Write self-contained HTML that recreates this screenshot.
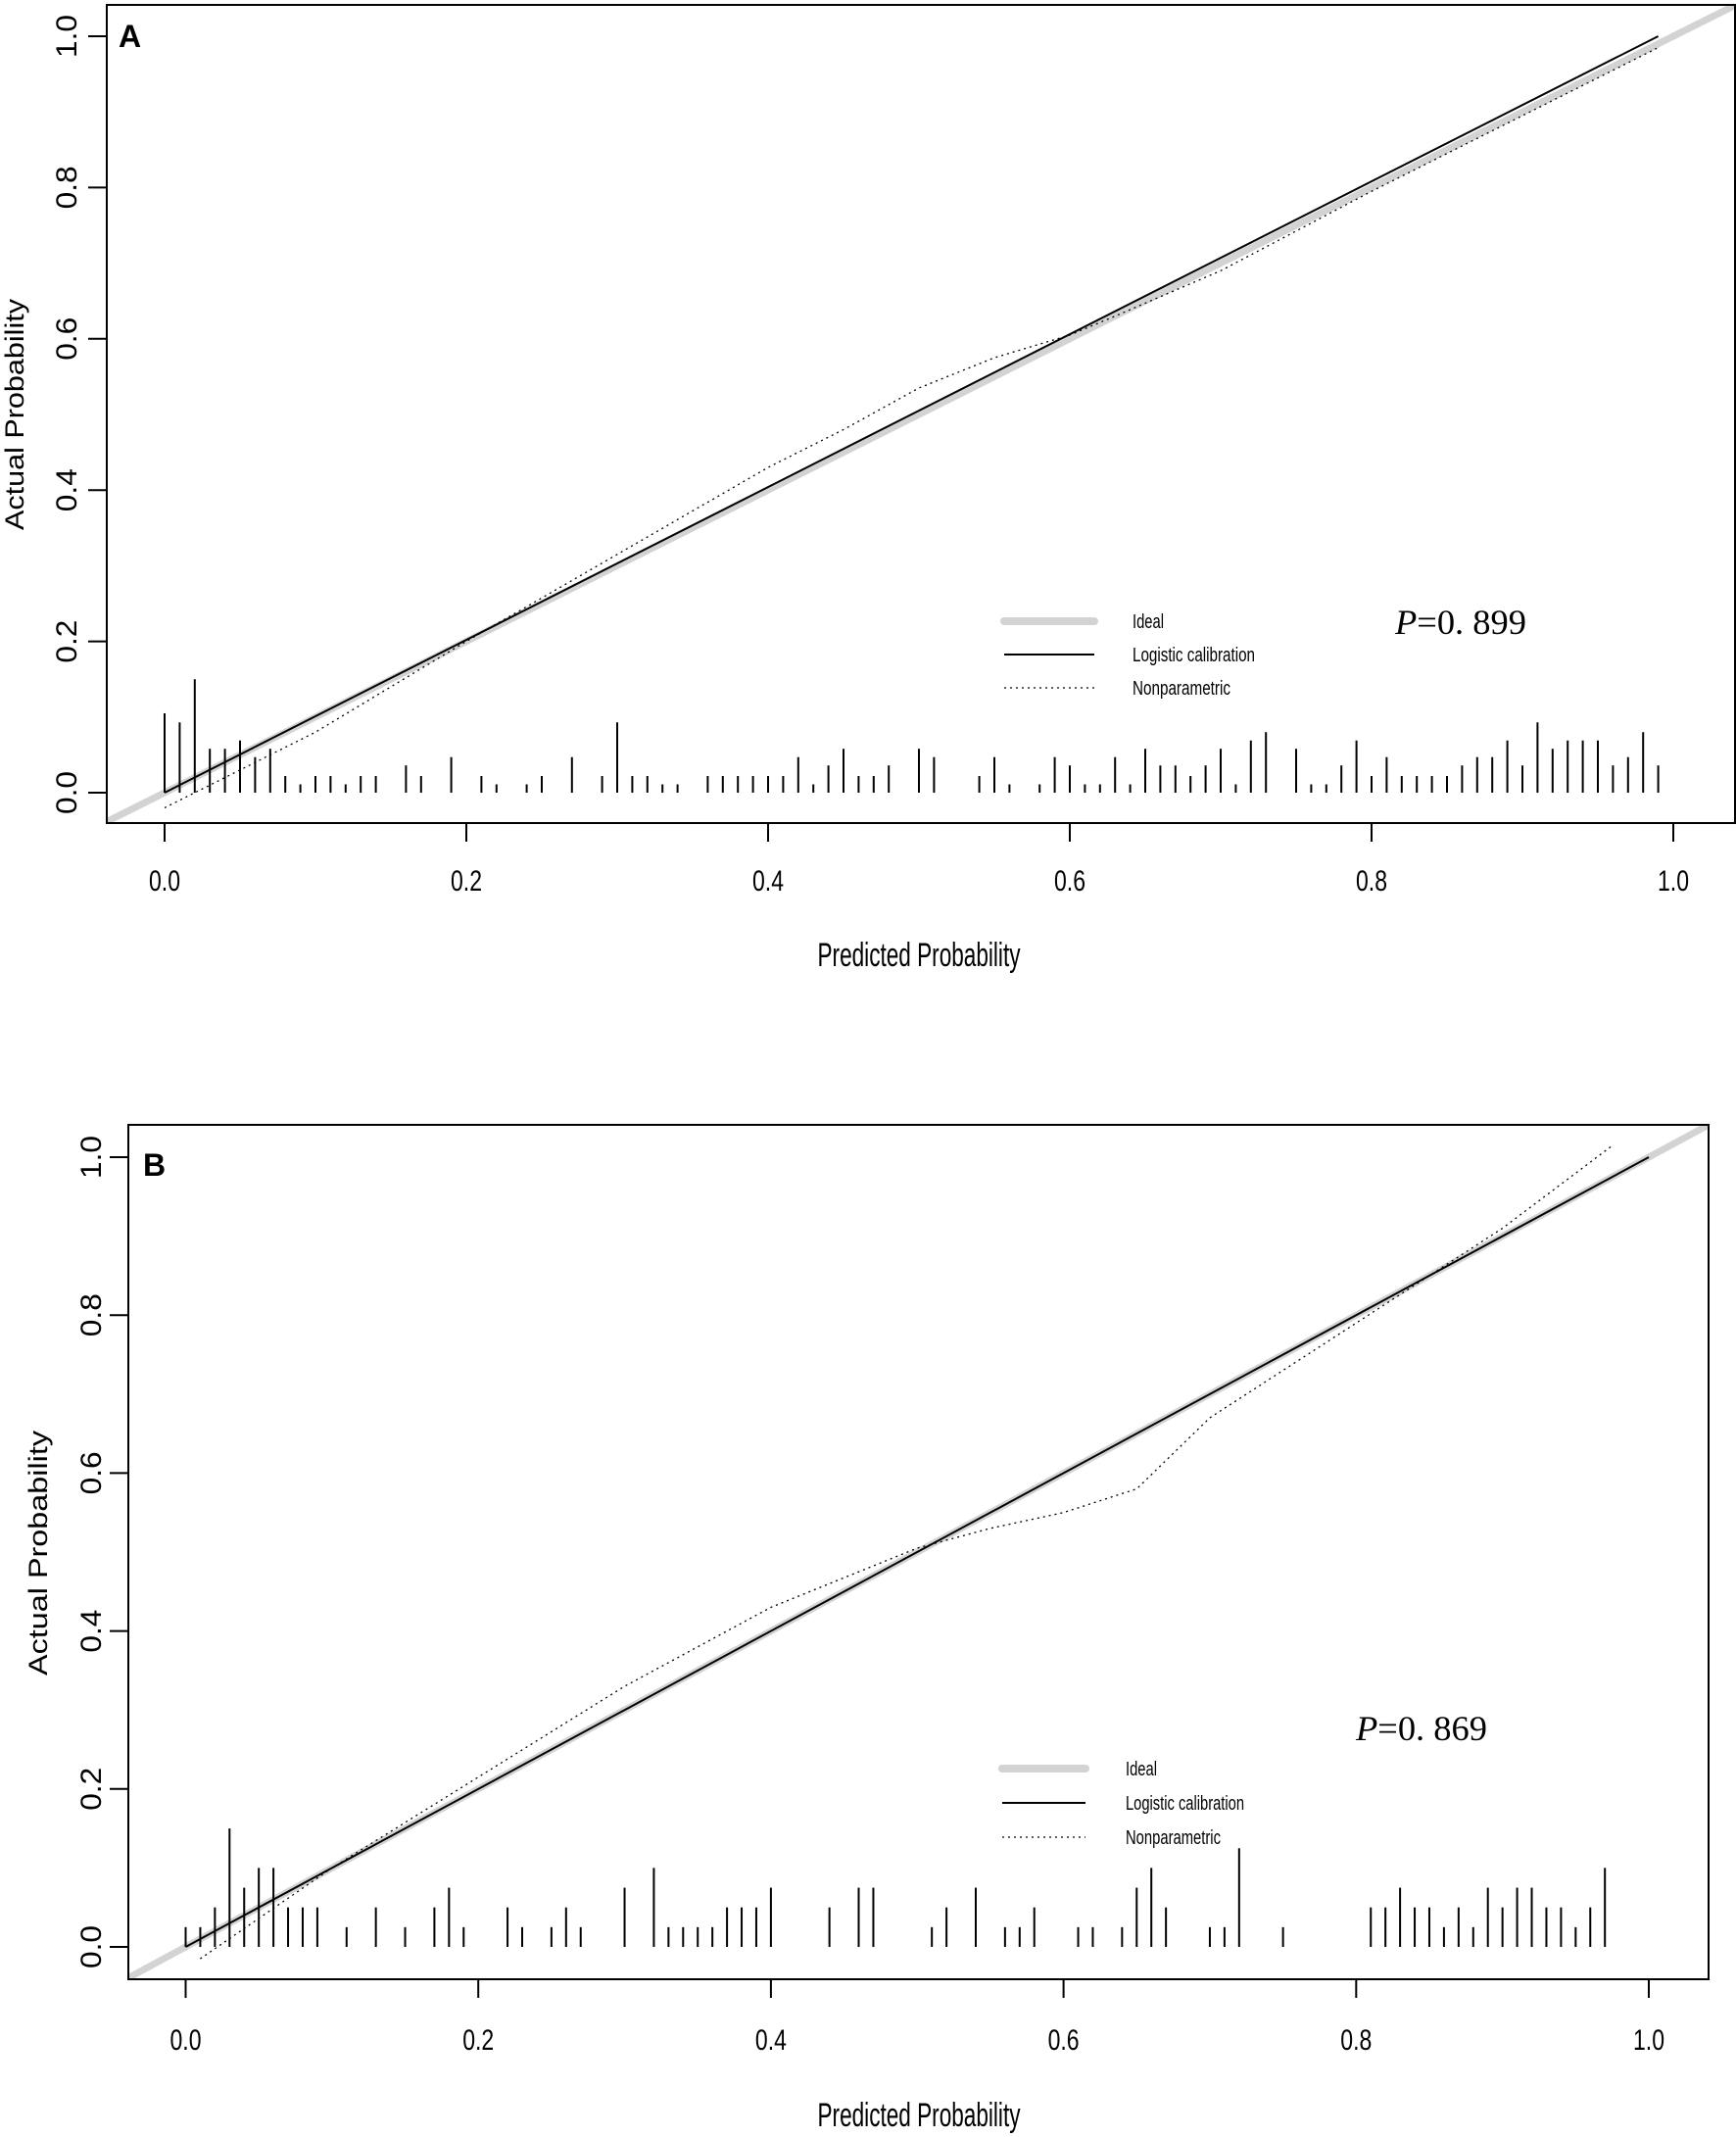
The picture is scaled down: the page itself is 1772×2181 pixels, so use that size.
<!DOCTYPE html>
<html><head><meta charset="utf-8"><title>Calibration curves</title>
<style>html,body{margin:0;padding:0;background:#fff}svg{display:block}</style></head>
<body>
<svg id="chart" xmlns="http://www.w3.org/2000/svg" width="1772" height="2181" viewBox="0 0 1772 2181"></svg>
<script>
// ---------- Data ----------
const xTickLabels = ["0.0","0.2","0.4","0.6","0.8","1.0"];
const xTickValues = [0,0.2,0.4,0.6,0.8,1.0];
const yTickLabels = ["0.0","0.2","0.4","0.6","0.8","1.0"];
const yTickValues = [0,0.2,0.4,0.6,0.8,1.0];
const legendLabels = ["Ideal","Logistic calibration","Nonparametric"];

// Panel A
const rugAx = [0,0.01,0.02,0.03,0.04,0.05,0.06,0.07,0.08,0.09,0.10,0.11,0.12,0.13,0.14,0.16,0.17,0.19,0.21,0.22,0.24,0.25,0.27,0.29,0.30,0.31,0.32,0.33,0.34,0.36,0.37,0.38,0.39,0.40,0.41,0.42,0.43,0.44,0.45,0.46,0.47,0.48,0.50,0.51,0.54,0.55,0.56,0.58,0.59,0.60,0.61,0.62,0.63,0.64,0.65,0.66,0.67,0.68,0.69,0.70,0.71,0.72,0.73,0.75,0.76,0.77,0.78,0.79,0.80,0.81,0.82,0.83,0.84,0.85,0.86,0.87,0.88,0.89,0.90,0.91,0.92,0.93,0.94,0.95,0.96,0.97,0.98,0.99];
const rugAh = [0.105,0.093,0.15,0.058,0.058,0.069,0.047,0.058,0.022,0.011,0.022,0.022,0.011,0.022,0.022,0.036,0.022,0.047,0.022,0.011,0.011,0.022,0.047,0.022,0.093,0.022,0.022,0.011,0.011,0.022,0.022,0.022,0.022,0.022,0.022,0.047,0.011,0.036,0.058,0.022,0.022,0.036,0.058,0.047,0.022,0.047,0.011,0.011,0.047,0.036,0.011,0.011,0.047,0.011,0.058,0.036,0.036,0.022,0.036,0.058,0.011,0.069,0.080,0.058,0.011,0.011,0.036,0.069,0.022,0.047,0.022,0.022,0.022,0.022,0.036,0.047,0.047,0.069,0.036,0.093,0.058,0.069,0.069,0.069,0.036,0.047,0.080,0.036];
const nonparAx = [0,0.1,0.2,0.3,0.4,0.45,0.5,0.55,0.6,0.63,0.7,0.8,0.9,0.99];
const nonparAy = [-0.02,0.08,0.2,0.315,0.43,0.48,0.535,0.575,0.605,0.63,0.69,0.795,0.895,0.985];
const logisticAx = [0,0.99];
const logisticAy = [0,1.0];
const pValueA = "0. 899";

// Panel B
const rugBx = [0,0.01,0.02,0.03,0.04,0.05,0.06,0.07,0.08,0.09,0.11,0.13,0.15,0.17,0.18,0.19,0.22,0.23,0.25,0.26,0.27,0.30,0.32,0.33,0.34,0.35,0.36,0.37,0.38,0.39,0.40,0.44,0.46,0.47,0.51,0.52,0.54,0.56,0.57,0.58,0.61,0.62,0.64,0.65,0.66,0.67,0.70,0.71,0.72,0.75,0.81,0.82,0.83,0.84,0.85,0.86,0.87,0.88,0.89,0.90,0.91,0.92,0.93,0.94,0.95,0.96,0.97];
const rugBh = [0.025,0.025,0.05,0.15,0.075,0.1,0.1,0.05,0.05,0.05,0.025,0.05,0.025,0.05,0.075,0.025,0.05,0.025,0.025,0.05,0.025,0.075,0.1,0.025,0.025,0.025,0.025,0.05,0.05,0.05,0.075,0.05,0.075,0.075,0.025,0.05,0.075,0.025,0.025,0.05,0.025,0.025,0.025,0.075,0.1,0.05,0.025,0.025,0.125,0.025,0.05,0.05,0.075,0.05,0.05,0.025,0.05,0.025,0.075,0.05,0.075,0.075,0.05,0.05,0.025,0.05,0.1];
const nonparBx = [0.01,0.1,0.2,0.3,0.4,0.5,0.55,0.6,0.65,0.7,0.8,0.9,0.976];
const nonparBy = [-0.015,0.1,0.215,0.33,0.43,0.505,0.53,0.55,0.58,0.67,0.79,0.91,1.016];
const logisticBx = [0,1.0];
const logisticBy = [0,1.0];
const pValueB = "0. 869";

// ---------- Rendering ----------
const NS = "http://www.w3.org/2000/svg";
const svg = document.getElementById("chart");
function mk(tag, attrs, parent){
  const e = document.createElementNS(NS, tag);
  for (const k in attrs) e.setAttribute(k, attrs[k]);
  (parent||svg).appendChild(e);
  return e;
}

function drawPanel(cfg){
  const g = mk("g", {});
  
  
  const sx = v => cfg.x0 + (cfg.x1 - cfg.x0) * v;
  const sy = v => cfg.y0 + (cfg.y1 - cfg.y0) * v;
  const clipId = "clip" + cfg.letter;
  const defs = mk("defs", {}, g);
  const cp = mk("clipPath", {id: clipId}, defs);
  mk("rect", {x: cfg.left, y: cfg.top, width: cfg.right - cfg.left, height: cfg.bottom - cfg.top}, cp);

  // ideal line
  const ideal = mk("line", {x1: sx(-0.1), y1: sy(-0.1), x2: sx(1.1), y2: sy(1.1), stroke: "#d3d3d3", "stroke-width": 7, "clip-path": "url(#" + clipId + ")"}, g);
  
  

  // logistic
  const lg = mk("polyline", {points: cfg.lx.map((v,i) => sx(v) + "," + sy(cfg.ly[i])).join(" "), fill: "none", stroke: "#000", "stroke-width": 2}, g);
  
  

  // nonparametric
  const np = mk("polyline", {points: cfg.nx.map((v,i) => sx(v) + "," + sy(cfg.ny[i])).join(" "), fill: "none", stroke: "#000", "stroke-width": 1.3, "stroke-dasharray": "2,4"}, g);
  
  

  // rug
  cfg.rx.forEach((v,i) => {
    const r = mk("line", {x1: sx(v), x2: sx(v), y1: sy(0), y2: sy(cfg.rh[i]), stroke: "#000", "stroke-width": 2}, g);
    
    
  });

  // box
  const box = mk("rect", {x: cfg.left, y: cfg.top, width: cfg.right - cfg.left, height: cfg.bottom - cfg.top, fill: "none", stroke: "#000", "stroke-width": 2}, g);
  
  

  // x ticks
  xTickValues.forEach((v,i) => {
    mk("line", {x1: sx(v), x2: sx(v), y1: cfg.bottom, y2: cfg.bottom + 19, stroke: "#000", "stroke-width": 2}, g);
    const t = mk("text", {x: sx(v), y: cfg.xLabelY, "text-anchor": "middle", "font-family": "Liberation Sans, sans-serif", "font-size": 30, textLength: 32, lengthAdjust: "spacingAndGlyphs"}, g);
    t.textContent = xTickLabels[i];
    
    
  });
  // y ticks
  yTickValues.forEach((v,i) => {
    mk("line", {x1: cfg.left, x2: cfg.left - 19, y1: sy(v), y2: sy(v), stroke: "#000", "stroke-width": 2}, g);
    const t = mk("text", {x: 0, y: 0, transform: "translate(" + cfg.yLabelX + "," + sy(v) + ") rotate(-90)", "text-anchor": "middle", "font-family": "Liberation Sans, sans-serif", "font-size": 30, textLength: 44, lengthAdjust: "spacingAndGlyphs"}, g);
    t.textContent = yTickLabels[i];
    
    
  });

  // titles
  const xt = mk("text", {x: 938, y: cfg.xTitleY, "text-anchor": "middle", "font-family": "Liberation Sans, sans-serif", "font-size": 34, textLength: 207, lengthAdjust: "spacingAndGlyphs"}, g);
  xt.textContent = "Predicted Probability";
  
  
  const yt = mk("text", {x: 0, y: 0, transform: "translate(" + cfg.yTitleX + "," + cfg.yTitleY + ") rotate(-90)", "text-anchor": "middle", "font-family": "Liberation Sans, sans-serif", "font-size": 27, textLength: cfg.yTitleLen, lengthAdjust: "spacingAndGlyphs"}, g);
  yt.textContent = "Actual Probability";
  
  

  // panel letter
  const pl = mk("text", {x: cfg.letterX, y: cfg.letterY, "font-family": "Liberation Sans, sans-serif", "font-weight": "bold", "font-size": 32}, g);
  pl.textContent = cfg.letter;
  
  

  // legend
  const lgY = cfg.legendY, lx1 = cfg.legendX1, lx2 = cfg.legendX2, tx = cfg.legendTextX;
  const styles = [
    {stroke: "#d3d3d3", "stroke-width": 8, "stroke-linecap": "round"},
    {stroke: "#000", "stroke-width": 2},
    {stroke: "#000", "stroke-width": 1.3, "stroke-dasharray": "2,4"}
  ];
  const lens = cfg.legendLens;
  legendLabels.forEach((lab,i) => {
    const y = lgY + i * cfg.legendGap;
    const a = Object.assign({x1: lx1, x2: lx2, y1: y, y2: y}, styles[i]);
    const ln = mk("line", a, g);
    
    
    const t = mk("text", {x: tx, y: y + 7, "font-family": "Liberation Sans, sans-serif", "font-size": 20, textLength: lens[i], lengthAdjust: "spacingAndGlyphs"}, g);
    t.textContent = lab;
    
    
  });

  // p value
  const pt = mk("text", {x: cfg.pX, y: cfg.pY, "font-family": "Liberation Serif, serif", "font-size": 36, textLength: 134, lengthAdjust: "spacingAndGlyphs"}, g);
  const ip = mk("tspan", {"font-style": "italic"}, pt);
  ip.textContent = "P";
  const rest = mk("tspan", {}, pt);
  rest.textContent = "=" + cfg.pText;
  
  
}

drawPanel({
  name: "panel-a", letter: "A",
  left: 109, right: 1771, top: 5, bottom: 840,
  x0: 168, x1: 1708, y0: 809, y1: 37,
  xLabelY: 909, yLabelX: 78, xTitleY: 986, yTitleX: 24, yTitleY: 423, yTitleLen: 236,
  letterX: 121, letterY: 48,
  legendY: 634, legendGap: 34, legendX1: 1025, legendX2: 1117, legendTextX: 1156, legendLens: [32,125,100],
  pX: 1424, pY: 647, pText: pValueA,
  rx: rugAx, rh: rugAh, nx: nonparAx, ny: nonparAy, lx: logisticAx, ly: logisticAy
});
drawPanel({
  name: "panel-b", letter: "B",
  left: 131, right: 1744, top: 1148, bottom: 2020,
  x0: 189.5, x1: 1683, y0: 1987, y1: 1181,
  xLabelY: 2092, yLabelX: 103, xTitleY: 2170, yTitleX: 48, yTitleY: 1585, yTitleLen: 250,
  letterX: 146, letterY: 1200,
  legendY: 1805, legendGap: 35, legendX1: 1023, legendX2: 1108, legendTextX: 1149, legendLens: [32,121,97],
  pX: 1384, pY: 1776, pText: pValueB,
  rx: rugBx, rh: rugBh, nx: nonparBx, ny: nonparBy, lx: logisticBx, ly: logisticBy
});
</script>
</body></html>
